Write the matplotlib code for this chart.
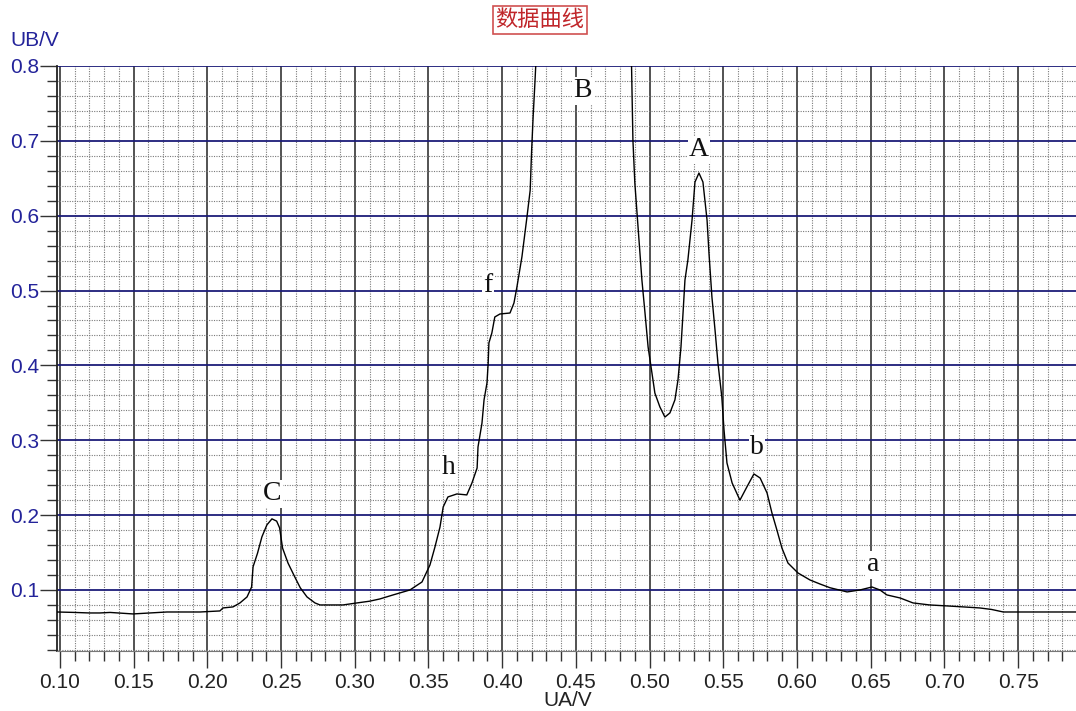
import matplotlib.pyplot as plt
from matplotlib.ticker import MultipleLocator, FormatStrFormatter

plt.rcParams['font.family'] = ['Liberation Sans', 'DejaVu Sans']

# UA (x) and UB (y) sample values of the recorded curve
ua = [0.098, 0.110, 0.120, 0.127, 0.134, 0.1495, 0.161, 0.1726, 0.185, 0.195,
      0.2085, 0.2106, 0.2174, 0.2221, 0.2269, 0.230, 0.231, 0.234, 0.237, 0.2404,
      0.2438, 0.247, 0.249, 0.251, 0.2547, 0.2594, 0.263, 0.2676, 0.273, 0.2764,
      0.285, 0.292, 0.3015, 0.310, 0.317, 0.326, 0.3374, 0.3456, 0.351, 0.3544,
      0.3578, 0.360, 0.3632, 0.3693, 0.376, 0.3795, 0.383, 0.3836, 0.3863, 0.3877,
      0.3897, 0.3905, 0.391, 0.393, 0.395, 0.3985, 0.4053, 0.408, 0.410, 0.4134,
      0.4168, 0.419, 0.420, 0.421, 0.4222, 0.4235,
      0.4875, 0.4881, 0.4887, 0.490, 0.4948, 0.4969, 0.499, 0.5016, 0.5036, 0.507,
      0.5104, 0.5138, 0.5172, 0.5193, 0.5213, 0.5227, 0.524, 0.526, 0.5288, 0.5308,
      0.5335, 0.5362, 0.539, 0.5403, 0.5423, 0.5444, 0.5464, 0.549, 0.5505, 0.5525,
      0.556, 0.5613, 0.566, 0.5708, 0.575, 0.5797, 0.583, 0.5864, 0.5898, 0.5939,
      0.6007, 0.6088, 0.6156, 0.6224, 0.634, 0.6427, 0.6509, 0.6563, 0.661, 0.670,
      0.6787, 0.690, 0.7018, 0.712, 0.724, 0.732, 0.740, 0.755, 0.7696, 0.790]
ub = [0.0706, 0.0700, 0.0693, 0.0693, 0.0700, 0.0680, 0.0693, 0.0706, 0.0706, 0.0706,
      0.0720, 0.0760, 0.0774, 0.0827, 0.0907, 0.104, 0.131, 0.149, 0.171, 0.187,
      0.195, 0.192, 0.183, 0.156, 0.136, 0.117, 0.103, 0.0907, 0.0827, 0.0800,
      0.0800, 0.0800, 0.0827, 0.0850, 0.0880, 0.0934, 0.100, 0.1107, 0.1334, 0.1575,
      0.184, 0.211, 0.2243, 0.2283, 0.227, 0.243, 0.263, 0.291, 0.323, 0.354,
      0.3766, 0.403, 0.430, 0.4433, 0.4647, 0.4687, 0.470, 0.4834, 0.5047, 0.545,
      0.598, 0.634, 0.688, 0.732, 0.777, 0.830,
      0.830, 0.764, 0.701, 0.6437, 0.514, 0.470, 0.4246, 0.390, 0.363, 0.3445,
      0.331, 0.3365, 0.354, 0.381, 0.4246, 0.470, 0.514, 0.541, 0.594, 0.645,
      0.657, 0.645, 0.594, 0.550, 0.4914, 0.4473, 0.403, 0.358, 0.3138, 0.2697,
      0.243, 0.220, 0.2376, 0.255, 0.2496, 0.2296, 0.203, 0.180, 0.156, 0.136,
      0.1227, 0.1134, 0.108, 0.103, 0.0974, 0.100, 0.104, 0.100, 0.0934, 0.0893,
      0.0827, 0.0800, 0.0787, 0.0775, 0.0760, 0.0740, 0.0706, 0.0706, 0.0706, 0.0706]

# peak labels
peak_names = ["C", "h", "f", "B", "A", "b", "a"]
peak_x = [0.2438, 0.364, 0.3904, 0.4548, 0.5335, 0.5729, 0.6516]
peak_y = [0.2283, 0.264, 0.507, 0.7666, 0.688, 0.291, 0.1334]

BLUE = "#23239a"

fig = plt.figure(figsize=(10.76, 7.11), dpi=100)
ax = fig.add_axes([0.053, 0.0844, 0.947, 0.8228])

ax.plot(ua, ub, color="black", linewidth=1.0, zorder=3)

ax.set_xlim(0.098, 0.7893)
ax.set_ylim(0.0185, 0.8)

ax.xaxis.set_major_locator(MultipleLocator(0.05))
ax.xaxis.set_minor_locator(MultipleLocator(0.01))
ax.yaxis.set_major_locator(MultipleLocator(0.1))
ax.yaxis.set_minor_locator(MultipleLocator(0.02))
ax.xaxis.set_major_formatter(FormatStrFormatter("%.2f"))
ax.yaxis.set_major_formatter(FormatStrFormatter("%.1f"))

# grid: grey verticals, navy horizontals, dotted minors
ax.grid(which="minor", color="#7a7a7a", linestyle=(0, (1, 1.2)), linewidth=0.8)
ax.grid(which="major", axis="x", color="#444444", linestyle="-", linewidth=1.3)
ax.grid(which="major", axis="y", color="#1c1c78", linestyle="-", linewidth=1.3)
ax.set_axisbelow(True)

ax.tick_params(axis="both", which="major", length=12, width=1.0, color="#333333")
ax.tick_params(axis="both", which="minor", length=7, width=1.0, color="#333333")
ax.tick_params(axis="y", which="major", labelsize=15, labelcolor=BLUE, pad=1)
ax.tick_params(axis="x", which="major", labelsize=15, labelcolor="#222222", pad=4)

for side in ["top", "right"]:
    ax.spines[side].set_visible(False)
ax.spines["left"].set_color("#222222")
ax.spines["left"].set_linewidth(1.3)
ax.spines["bottom"].set_color("#777777")

for name, x, y in zip(peak_names, peak_x, peak_y):
    ax.text(x, y, name, ha="center", va="center", fontsize=20,
            family=["Liberation Serif", "DejaVu Serif"], color="#111111", zorder=4,
            bbox=dict(facecolor="white", edgecolor="none", pad=1.0))

fig.text(10 / 1076, 1 - 40 / 711, "UB/V", ha="left", va="center",
         fontsize=15, color=BLUE)
fig.text(568 / 1076, 1 - 700 / 711, "UA/V", ha="center", va="center",
         fontsize=15, color="#222222")
fig.text(540 / 1076, 1 - 20 / 711, "数据曲线", ha="center", va="center",
         fontsize=16, color="#c0262a",
         family=["Noto Sans CJK SC", "DejaVu Sans"],
         bbox=dict(facecolor="white", edgecolor="#d05050", boxstyle="square,pad=0.1",
                   linewidth=1.2))

fig.savefig("out.png", dpi=100)
